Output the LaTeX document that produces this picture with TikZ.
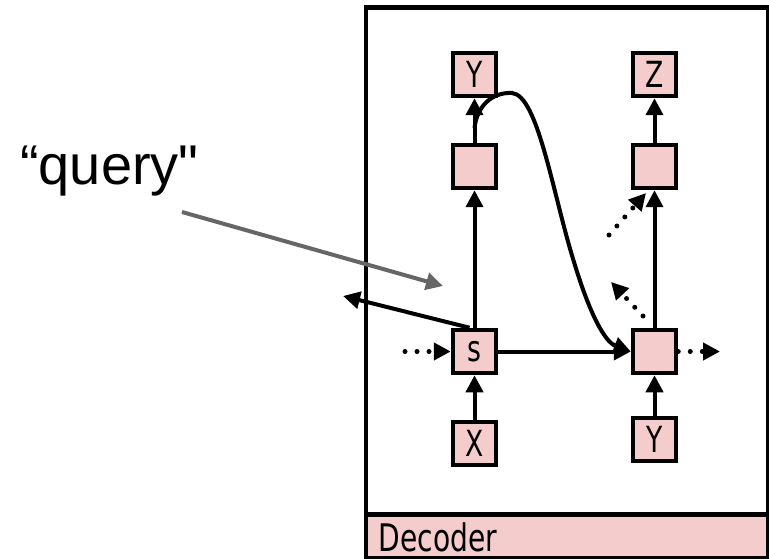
\documentclass[tikz,border=0pt]{standalone}
\usepackage{fontspec}
\setmainfont{Liberation Sans}
\newfontfamily\qfont{Liberation Sans}
\newfontfamily\condfont[FakeStretch=0.74]{DejaVu Sans}
\usetikzlibrary{arrows.meta}
\definecolor{boxpink}{HTML}{F4CCCC}
\definecolor{qgray}{HTML}{666666}
\begin{document}
\begin{tikzpicture}[x=1pt,y=-1pt,
  cell/.style={draw, line width=4.5pt, fill=boxpink, minimum width=43pt, minimum height=43pt, inner sep=0pt, font=\condfont\fontsize{36}{36}\selectfont},
  arr/.style={line width=4pt, -{Triangle[length=17pt,width=17pt]}},
  dotarr/.style={line width=5pt, line cap=round, dash pattern=on 0pt off 12pt, -{Triangle[length=17pt,width=17pt]}},
  grayarr/.style={line width=4pt, draw=qgray, -{Triangle[length=17pt,width=17pt,fill=qgray]}},
]
\useasboundingbox (0,0) rectangle (769,559);
% frame
\node[draw, line width=4.5pt, minimum width=402pt, minimum height=550pt, anchor=north west, inner sep=0pt] (frame) at (363.5,5.5) {};
\node[draw, line width=4.5pt, fill=boxpink, minimum width=402pt, minimum height=43.5pt, anchor=north west, inner sep=0pt] (dec) at (363.5,512) {};
\node[anchor=west, inner sep=0pt, font=\condfont\fontsize{38}{38}\selectfont] (declabel) at ([xshift=15pt,yshift=-1pt]dec.west) {Decoder};
% cells
\node[cell] (Y1) at (474.5,74.5) {Y};
\node[cell] (H1) at (474.5,166.5) {};
\node[cell] (S)  at (474.5,351.5) {s};
\node[cell] (X)  at (474.5,443.5) {X};
\node[cell] (Z)  at (654.5,74.5) {Z};
\node[cell] (H2) at (654.5,166.5) {};
\node[cell] (R)  at (654.5,351.5) {};
\node[cell] (Y2) at (654.5,439.5) {Y};
% text
\node[anchor=base west, inner sep=0pt, font=\qfont\fontsize{56}{56}\selectfont] (query) at (20,185) {“query"};
% coordinates
\coordinate (c1) at (474.5,128);
\coordinate (out1) at (343,296);
\coordinate (q1) at (182,212);
\coordinate (q2) at (443,286);
\coordinate (in1) at (405,351.5);
\coordinate (out2) at (720,351.5);
\coordinate (d1) at (609,235);
\coordinate (d2) at (646,193);
\coordinate (e1) at (643,316);
\coordinate (e2) at (611,282);
% arrows
\draw[arr] (X) -- (S);
\draw[arr] (S) -- (H1);
\draw[arr] (H1) -- (Y1);
\draw[arr] (Y2) -- (R);
\draw[arr] (R) -- (H2);
\draw[arr] (H2) -- (Z);
\draw[arr] (S) -- (R);
\draw[arr] (c1) .. controls (477,106) and (492,92) .. (512,93)
  .. controls (538,95) and (553,195) .. (574,262)
  .. controls (590,315) and (605,342) .. (R.west);
\draw[arr] ([xshift=-5pt]S.north) -- (out1);
\draw[grayarr] (q1) -- (q2);
\draw[dotarr] (in1) -- (S.west);
\draw[dotarr] (R.east) -- (out2);
\draw[dotarr] (d1) -- (d2);
\draw[dotarr] (e1) -- (e2);
\end{tikzpicture}
\end{document}
